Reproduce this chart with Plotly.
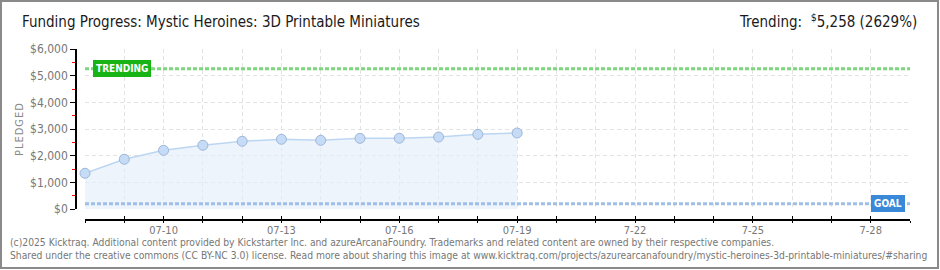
import plotly.graph_objects as go

# ---------------- data ----------------
dates = ["2025-07-08", "2025-07-09", "2025-07-10", "2025-07-11", "2025-07-12", "2025-07-13",
         "2025-07-14", "2025-07-15", "2025-07-16", "2025-07-17", "2025-07-18", "2025-07-19"]
pledged = [1340, 1865, 2200, 2390, 2540, 2615, 2575, 2650, 2655, 2700, 2800, 2850]
goal = 200
trending = 5258
tick_dates = ["2025-07-%02d" % d for d in range(8, 30)]
tick_labels = {"2025-07-10": "07-10", "2025-07-13": "07-13", "2025-07-16": "07-16",
               "2025-07-19": "07-19", "2025-07-22": "7-22", "2025-07-25": "7-25",
               "2025-07-28": "7-28"}
y_ticks = [0, 1000, 2000, 3000, 4000, 5000, 6000]
y_labels = ["$0", "$1,000", "$2,000", "$3,000", "$4,000", "$5,000", "$6,000"]
y_minor = [500, 1500, 2500, 3500, 4500, 5500]

title = "Funding Progress: Mystic Heroines: 3D Printable Miniatures"
footer1 = ("(c)2025 Kicktraq. Additional content provided by Kickstarter Inc. and azureArcanaFoundry. "
           "Trademarks and related content are owned by their respective companies.")
footer2 = ("Shared under the creative commons (CC BY-NC 3.0) license. Read more about sharing this image at "
           "www.kicktraq.com/projects/azurearcanafoundry/mystic-heroines-3d-printable-miniatures/#sharing")

# ---------------- layout geometry ----------------
W, H = 940, 270
L, R, T, B = 76, 30, 49, 50          # plot area: x 76..910, y 49..220
PW, PH = W - L - R, H - T - B
x_gap = 9                             # first day sits 9px right of the y axis
y_gap = 11                            # x axis line sits 11px below $0

def px_x(x):
    return (x - L) / PW

def px_y(y):
    return (H - B - y) / PH

FONT = "DejaVu Sans Condensed"
GRAY = "#777777"
x_range = [tick_dates[0], tick_dates[-1]]

fig = go.Figure()

fig.add_trace(go.Scatter(
    x=dates, y=pledged, mode="lines+markers",
    fill="tozeroy", fillcolor="rgba(228,238,251,0.65)",
    line=dict(color="#bcd6f2", width=1.5),
    marker=dict(size=10, color="#c6dcf6", line=dict(color="#9cb6da", width=1)),
    cliponaxis=False, hoverinfo="skip", showlegend=False,
))
# invisible trace that carries the overlay axis (outer halves of the crossing ticks)
fig.add_trace(go.Scatter(
    x=dates, y=pledged, xaxis="x2", mode="markers", marker=dict(opacity=0),
    hoverinfo="skip", showlegend=False,
))

shapes = [
    dict(type="line", xref="x", yref="y", x0=tick_dates[0], x1=tick_dates[-1],
         y0=trending, y1=trending, line=dict(color="#7fd47f", width=3, dash="4px,2px"), layer="above"),
    dict(type="line", xref="x", yref="y", x0=tick_dates[0], x1=tick_dates[-1],
         y0=goal, y1=goal, line=dict(color="#9fbfe6", width=3, dash="4px,2px"), layer="above"),
    # outer border
    dict(type="rect", xref="paper", yref="paper", x0=px_x(1), x1=px_x(938), y0=px_y(1), y1=px_y(268),
         line=dict(color="#8a8a8a", width=2), fillcolor="rgba(0,0,0,0)"),
]

sp = "\u200a"
annotations = [
    dict(text=title, xref="paper", yref="paper", x=px_x(20), y=px_y(22), xanchor="left", yanchor="middle",
         showarrow=False, font=dict(family=FONT, size=15, color="#1a1a1a")),
    dict(text="Trending:  <sup>$</sup>5,258 (2629%)", xref="paper", yref="paper", x=px_x(919), y=px_y(21),
         xanchor="right", yanchor="middle", showarrow=False, font=dict(family=FONT, size=15, color="#1a1a1a")),
    dict(text=sp.join("PLEDGED"), xref="paper", yref="paper", x=px_x(19), y=px_y(129), xanchor="center",
         yanchor="middle", textangle=-90, showarrow=False, font=dict(family=FONT, size=11, color="#888888")),
    dict(text="<b>TRENDING</b>", xref="x", yref="y", x=dates[0], y=trending, xanchor="left", yanchor="middle",
         xshift=8, showarrow=False, bgcolor="#17b317", bordercolor="#17b317", borderpad=2,
         font=dict(family=FONT, size=10, color="white")),
    dict(text="<b>GOAL</b>", xref="paper", yref="y", x=1, y=goal, xanchor="right", yanchor="middle",
         xshift=-5, showarrow=False, bgcolor="#3a88d8", bordercolor="#3a88d8", borderpad=2,
         font=dict(family=FONT, size=10, color="white")),
    dict(text=footer1, xref="paper", yref="paper", x=px_x(8), y=px_y(242), xanchor="left", yanchor="middle",
         showarrow=False, font=dict(family=FONT, size=10.25, color=GRAY)),
    dict(text=footer2, xref="paper", yref="paper", x=px_x(8), y=px_y(255), xanchor="left", yanchor="middle",
         showarrow=False, font=dict(family=FONT, size=10.25, color=GRAY)),
]

x_dom = [x_gap / PW, 1]
fig.update_layout(
    width=W, height=H, margin=dict(l=L, r=R, t=T, b=B, pad=0),
    paper_bgcolor="white", plot_bgcolor="white",
    shapes=shapes, annotations=annotations,
    xaxis=dict(
        type="date", range=x_range, domain=x_dom,
        anchor="free", position=0,
        tickvals=tick_dates, ticktext=[tick_labels.get(d, "") for d in tick_dates],
        ticks="inside", ticklen=3, tickcolor="black", tickwidth=1,
        showline=True, linecolor="black", linewidth=1.5,
        showgrid=True, gridcolor="#e3e3e3", griddash="4px,3px", gridwidth=1,
        tickfont=dict(family=FONT, size=11, color=GRAY),
        zeroline=False, fixedrange=True,
    ),
    xaxis2=dict(
        type="date", range=x_range, domain=x_dom, overlaying="x",
        anchor="free", position=0,
        tickvals=tick_dates, showticklabels=False,
        ticks="outside", ticklen=2, tickcolor="black", tickwidth=1,
        showline=False, showgrid=False, zeroline=False, fixedrange=True,
    ),
    yaxis=dict(
        domain=[y_gap / PH, 1], range=[0, 6000],
        anchor="free", position=0,
        tickvals=y_ticks, ticktext=y_labels,
        ticks="outside", ticklen=5, tickcolor="black", tickwidth=1,
        minor=dict(tickmode="array", tickvals=y_minor, ticks="outside", ticklen=3,
                   tickcolor="red", tickwidth=1, showgrid=False),
        showline=True, linecolor="black", linewidth=1.5,
        showgrid=True, gridcolor="#e3e3e3", griddash="4px,3px", gridwidth=1,
        tickfont=dict(family=FONT, size=12, color=GRAY),
        zeroline=False, fixedrange=True,
    ),
)

fig.write_html("out.html")
